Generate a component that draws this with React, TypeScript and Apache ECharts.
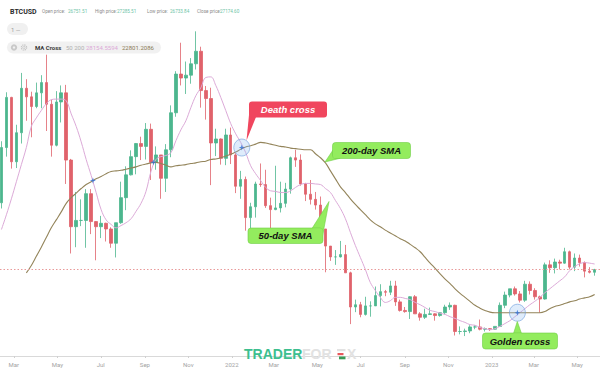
import React, { useEffect, useRef } from 'react';
import * as echarts from 'echarts';

// Weekly candles (week starting Monday)
const weekStart = '2021-02-08';
const opens = [38900,48600,57400,46100,51200,59000,57500,55800,58200,60000,56200,49000,56600,58200,46400,34700,35800,35800,40500,35600,34700,35300,34300,31800,35400,39800,43800,47000,49300,48800,51800,46000,47300,43200,48200,54700,61500,60800,61300,63300,65500,58600,57200,49400,50100,46700,50800,47300,41800,43000,36300,38200,42200,42100,38400,37700,38000,38800,41300,46800,46400,42200,40400,39500,38500,34300,31300,29400,29400,29800,26600,20600,21000,19300,20800,20800,22600,23300,23200,24300,21500,20000,19800,22400,19400,18800,19300,19400,19100,19600,20600,20900,16300,16300,16400,17100,17100,16700,16800,16700,17200,20900,22700,23800,22900,21800,24600,23500,22400,22000,28000,27500,28500,28300,30300,27600,29200,28400,26900,26700];
const highs = [49700,58300,57500,52600,61700,60600,58400,60000,61300,64900,57000,58500,59500,59600,46600,40800,39500,41300,41300,35700,36600,35400,34600,35400,42600,45300,48100,49400,50500,52900,52800,48800,47300,49200,56000,62000,67000,63700,64300,69000,66300,59400,59100,51900,50200,51900,52100,47600,44500,43500,38900,42600,45800,44700,39800,45400,42600,42400,47000,48200,47400,42400,42900,40800,40000,34300,31300,30600,32200,31500,26800,21900,21500,22400,21600,24200,24600,23600,25200,25200,21900,20600,22500,22700,19700,20300,20500,19500,19700,21000,21400,21000,17200,16800,17400,17400,18400,17000,16900,17200,21400,23300,23800,24200,23400,25200,25100,23900,22600,28400,28800,29100,28900,31000,30500,30000,29800,28600,27600,27300];
const lows = [37900,47000,44900,45000,49300,53300,50400,55500,55500,51500,47000,48800,53000,42200,30000,31100,34800,31000,33400,28800,32700,32100,31000,29300,35200,37600,43700,43900,46400,46500,42900,44700,39600,40800,46900,54000,59500,58000,59800,62300,55600,53500,42000,47100,45600,45500,45700,40600,39600,34000,32900,36300,41700,38000,34300,37600,37200,38100,40500,45200,41900,39200,38600,37700,33700,26700,28700,28000,29300,26600,17600,19700,18800,19100,18900,20800,20700,22500,22700,20800,19800,19600,18500,19400,18200,18500,19200,18200,18900,19300,20100,15600,15800,15500,16000,16700,16500,16300,16400,16600,17200,20400,22300,22600,21400,21500,22800,21900,19600,21900,26600,26500,27200,28200,27200,26900,27700,25800,26500,26100];
const closes = [48600,57400,46100,51200,59000,57500,55800,58200,60000,56200,49000,56600,58200,46400,34700,35800,35800,40500,35600,34700,35300,34300,31800,35400,39800,43800,47000,49300,48800,51800,46000,47300,43200,48200,54700,61500,60800,61300,63300,65500,58600,57200,49400,50100,46700,50800,47300,41800,43000,36300,38200,42200,42100,38400,37700,38000,38800,41300,46800,46400,42200,40400,39500,38500,34300,31300,29400,29400,29800,26600,20600,21000,19300,20800,20800,22600,23300,23200,24300,21500,20000,19800,22400,19400,18800,19300,19400,19100,19600,20600,20900,16300,16300,16400,17100,17100,16700,16800,16700,17200,20900,22700,23800,22900,21800,24600,23500,22400,22000,28000,27500,28500,28300,30300,27600,29200,28400,26900,26700,27175];
const ma50 = [34200,36800,39600,42600,45600,48600,52300,53800,55100,56300,57000,57100,57100,56800,54500,52300,49600,46500,43700,40700,37700,35900,35100,34500,34900,35400,36100,37400,38800,40900,44400,46500,47000,47200,47700,49800,51700,53300,55600,57700,59100,60900,61000,59500,57400,55100,52800,51000,49500,47700,45400,44000,42800,41600,41000,40900,40700,40700,41000,41600,42100,42300,42300,42200,42100,41400,40700,39300,37900,36100,33700,31400,29300,27200,24900,23500,22300,21400,21700,22300,22300,22100,21900,21400,21000,20500,20000,19800,19500,19300,18900,18600,18200,17900,17500,17400,17000,16800,16600,16800,17200,17700,18200,18900,19600,20300,21000,21600,22300,23100,23800,24500,25200,25900,27000,27700,28200,28400,28300,28150];
const ma200 = [null,null,null,null,null,26600,27900,29500,31100,32800,34500,35900,37300,38800,39800,40600,41400,42100,42600,43100,43500,44000,44400,44500,44600,44800,45000,45200,45500,45700,45900,46000,45800,45500,45200,45400,45500,45600,45800,45900,46100,46200,46500,46600,46800,47100,47400,47800,48300,48700,48900,49200,49500,49400,49200,49000,48800,48700,48500,48400,48300,48200,48200,47500,46800,45900,44500,43100,41700,40700,39600,38600,37700,36800,35900,35200,34700,34100,33600,33100,32600,32200,31600,31000,30300,29300,28300,27400,26400,25500,24700,23800,23000,22300,21600,20900,20400,20000,19700,19600,19600,19600,19600,19600,19600,19600,19600,19600,19600,19800,20300,20700,20900,21200,21500,21700,22000,22200,22400,22800];

const tickDates = ['2021-03-01','2021-05-01','2021-07-01','2021-09-01','2021-11-01','2022-01-01','2022-03-01','2022-05-01','2022-07-01','2022-09-01','2022-11-01','2023-01-01','2023-03-01','2023-05-01'];
const tickLabels = ['Mar','May','Jul','Sep','Nov','2022','Mar','May','Jul','Sep','Nov','2023','Mar','May'];

const crossDates = ['2021-06-20','2021-09-13','2022-01-15','2023-02-06'];
const crossPrices = [42800,46000,48600,19600];
const circleDates = ['2022-01-15','2023-02-06'];
const circlePrices = [48600,19600];
const lastClose = 27174.6;

const headerLabels = ['Open price:','High price:','Low price:','Close price:'];
const headerValues = ['26751.51','27285.51','26733.84','27174.60'];
const maValues = ['28154.5594','22801.2086'];

const ORIGIN = Date.UTC(2021, 1, 10);
function dayIndex(s: string): number {
  const [y, m, d] = s.split('-').map(Number);
  return Math.round((Date.UTC(y, m - 1, d) - ORIGIN) / 86400000);
}

export default function App() {
  const ref = useRef<HTMLDivElement>(null);
  useEffect(() => {
    if (!ref.current) return;
    const chart = echarts.init(ref.current, undefined, { renderer: 'svg' });
    const w0 = dayIndex(weekStart) + 3.5;
    const candle = opens.map((o, i) => [w0 + 7 * i, o, closes[i], lows[i], highs[i]]);
    const m50 = ma50.map((v, i) => [w0 + 7 * i, v]);
    const m200 = ma200.map((v, i) => [w0 + 7 * i, v]);
    const tickX = tickDates.map(dayIndex);
    const labelMap = new Map<number, string>();
    tickX.forEach((x, i) => labelMap.set(x, tickLabels[i]));
    const crosses = crossDates.map((d, i) => [dayIndex(d), crossPrices[i]]);
    const circles = circleDates.map((d, i) => [dayIndex(d), circlePrices[i]]);

    const font = 'Roboto, "Liberation Sans", sans-serif';
    const calloutFont = 'italic bold 9.5px "Liberation Sans", Arial, sans-serif';
    const wmFont = '900 14px "Liberation Sans", Arial, sans-serif';
    const green = '#93ec5e';
    const greenStroke = '#6fcf45';

    const graphic: any[] = [
      // header
      { type: 'text', x: 10, y: 11.5, style: { text: 'BTCUSD', font: 'bold 7px ' + font, fill: '#2a2a2a', verticalAlign: 'middle' } },
      ...headerLabels.map((t, i) => ({ type: 'text', x: [42, 95, 147, 197][i], y: 11.5, style: { text: t, font: '4.6px ' + font, fill: '#8c8c8c', verticalAlign: 'middle' } })),
      ...headerValues.map((t, i) => ({ type: 'text', x: [68, 117, 170, 220][i], y: 11.5, style: { text: t, font: '4.6px ' + font, fill: '#6cc4a6', verticalAlign: 'middle' } })),
      { type: 'rect', shape: { x: 7, y: 23, width: 21, height: 12, r: 6 }, style: { fill: '#f0f0f0' } },
      { type: 'text', x: 11, y: 29, style: { text: '1 —', font: '6px ' + font, fill: '#9a9a9a', verticalAlign: 'middle' } },
      { type: 'rect', shape: { x: 7, y: 41.5, width: 154, height: 12, r: 6 }, style: { fill: '#f1f1f1' } },
      { type: 'circle', shape: { cx: 14, cy: 47.5, r: 3.2 }, style: { fill: '#c9c9c9' } },
      { type: 'circle', shape: { cx: 14, cy: 47.5, r: 1.2 }, style: { fill: '#f1f1f1' } },
      { type: 'circle', shape: { cx: 24, cy: 47.5, r: 2.6 }, style: { fill: 'none', stroke: '#c4c4c4', lineWidth: 1.3, lineDash: [1.2, 0.8] } },
      { type: 'circle', shape: { cx: 24, cy: 47.5, r: 1 }, style: { fill: 'none', stroke: '#c4c4c4', lineWidth: 0.8 } },
      { type: 'text', x: 35, y: 47.5, style: { text: 'MA Cross', font: 'bold 6px ' + font, fill: '#3a3a3a', verticalAlign: 'middle' } },
      { type: 'text', x: 66, y: 47.5, style: { text: '50 200', font: '6px ' + font, fill: '#b0b0b0', verticalAlign: 'middle' } },
      { type: 'text', x: 86, y: 47.5, style: { text: maValues[0], font: '6px ' + font, fill: '#dcaad8', verticalAlign: 'middle' } },
      { type: 'text', x: 122, y: 47.5, style: { text: maValues[1], font: '6px ' + font, fill: '#8b7a55', verticalAlign: 'middle' } },

      // Death cross callout
      { type: 'polygon', z: 100, shape: { points: [[249, 115], [256, 117], [246.5, 140.5]] }, style: { fill: '#f0465e' } },
      { type: 'rect', z: 100, shape: { x: 249, y: 101.5, width: 78, height: 16, r: 3 }, style: { fill: '#f0465e' } },
      { type: 'text', z: 101, x: 288, y: 109.5, style: { text: 'Death cross', font: calloutFont, fill: '#ffffff', align: 'center', verticalAlign: 'middle' } },

      // 200-day SMA callout
      { type: 'polygon', z: 100, shape: { points: [[333, 150], [340, 158.3], [325, 162]] }, style: { fill: green, stroke: greenStroke, lineWidth: 0.6 } },
      { type: 'rect', z: 100, shape: { x: 332.5, y: 142.5, width: 78, height: 16, r: 3 }, style: { fill: green, stroke: greenStroke, lineWidth: 0.6 } },
      { type: 'polygon', z: 100, shape: { points: [[333.5, 151], [339.5, 158], [333.5, 158]] }, style: { fill: green } },
      { type: 'text', z: 101, x: 371.5, y: 150.5, style: { text: '200-day SMA', font: calloutFont, fill: '#111', align: 'center', verticalAlign: 'middle' } },

      // 50-day SMA callout
      { type: 'polygon', z: 100, shape: { points: [[312, 228.5], [322.5, 236], [329, 201.5]] }, style: { fill: green, stroke: greenStroke, lineWidth: 0.6 } },
      { type: 'rect', z: 100, shape: { x: 248, y: 228, width: 75, height: 15.5, r: 3 }, style: { fill: green, stroke: greenStroke, lineWidth: 0.6 } },
      { type: 'polygon', z: 100, shape: { points: [[312.5, 228.6], [322.4, 228.6], [322.4, 235.5]] }, style: { fill: green } },
      { type: 'text', z: 101, x: 285.5, y: 235.8, style: { text: '50-day SMA', font: calloutFont, fill: '#111', align: 'center', verticalAlign: 'middle' } },

      // Golden cross callout
      { type: 'polygon', z: 100, shape: { points: [[513.5, 333.5], [521.5, 333.5], [517.3, 321.5]] }, style: { fill: green, stroke: greenStroke, lineWidth: 0.6 } },
      { type: 'rect', z: 100, shape: { x: 482.5, y: 333, width: 75, height: 16, r: 3 }, style: { fill: green, stroke: greenStroke, lineWidth: 0.6 } },
      { type: 'rect', z: 100, shape: { x: 514, y: 333.4, width: 7, height: 1.5 }, style: { fill: green } },
      { type: 'text', z: 101, x: 520, y: 341.2, style: { text: 'Golden cross', font: calloutFont, fill: '#111', align: 'center', verticalAlign: 'middle' } },

      // watermark
      { type: 'text', z: 120, x: 244, y: 354, style: { text: 'TRADER', font: wmFont, fill: '#3dbf8f', verticalAlign: 'middle' } },
      { type: 'text', z: 120, x: 302, y: 354, style: { text: 'FOR', font: wmFont, fill: '#e2e2e2', verticalAlign: 'middle' } },
      { type: 'text', z: 120, x: 347, y: 354, style: { text: 'X', font: wmFont, fill: '#e2e2e2', verticalAlign: 'middle' } },
      { type: 'rect', z: 121, shape: { x: 337, y: 349, width: 8.5, height: 2.2 }, style: { fill: '#e2e2e2' } },
      { type: 'rect', z: 121, shape: { x: 337.5, y: 353, width: 6, height: 2.2 }, style: { fill: '#e8585c' } },
      { type: 'rect', z: 121, shape: { x: 339, y: 356.5, width: 6.5, height: 2.8 }, style: { fill: '#3a9a56' } },
    ];

    chart.setOption({
      animation: false,
      backgroundColor: '#ffffff',
      grid: { left: 0, right: 0, top: 0, bottom: 13 },
      xAxis: {
        type: 'value', min: -0.5, max: 842,
        axisLine: { show: true, lineStyle: { color: '#d9d9d9', width: 1 } },
        axisTick: { show: true, customValues: tickX, length: 2, lineStyle: { color: '#d0d0d0' } },
        axisLabel: {
          customValues: tickX,
          formatter: (v: number) => labelMap.get(Math.round(v)) ?? '',
          fontSize: 6, color: '#a3a3a3', margin: 5.5, fontFamily: font,
        },
        splitLine: { show: false },
      },
      yAxis: { type: 'value', min: 12000, max: 74500, show: false, splitLine: { show: false } },
      series: [
        {
          type: 'candlestick', data: candle, barWidth: 3, z: 2,
          itemStyle: { color: '#4cb68e', color0: '#e0626b', borderColor: '#4cb68e', borderColor0: '#e0626b', borderWidth: 0.8 },
          markLine: {
            silent: true, symbol: ['none', 'none'], label: { show: false },
            lineStyle: { color: '#e89a9a', type: [1.5, 2], width: 1 },
            data: [{ yAxis: lastClose }],
          },
        },
        { type: 'line', data: m50, showSymbol: false, smooth: 0.4, z: 3, lineStyle: { color: '#dcaad8', width: 1 } },
        { type: 'line', data: m200, showSymbol: false, smooth: 0.4, z: 3, lineStyle: { color: '#93845a', width: 1.1 } },
        {
          type: 'scatter', data: circles, z: 4, symbol: 'circle', symbolSize: [16, 17],
          itemStyle: { color: 'rgba(140,185,240,0.35)', borderColor: '#6f9fdc', borderWidth: 0.8 },
        },
        {
          type: 'scatter', data: crosses, z: 5, symbolSize: 6,
          symbol: 'path://M0,-10L2.5,-2.5L10,0L2.5,2.5L0,10L-2.5,2.5L-10,0L-2.5,-2.5Z',
          itemStyle: { color: '#2f6fd6' },
        },
      ],
      graphic,
    });
    return () => chart.dispose();
  }, []);
  return <div ref={ref} style={{ width: 600, height: 369, position: 'absolute', left: 0, top: 0 }} />;
}
